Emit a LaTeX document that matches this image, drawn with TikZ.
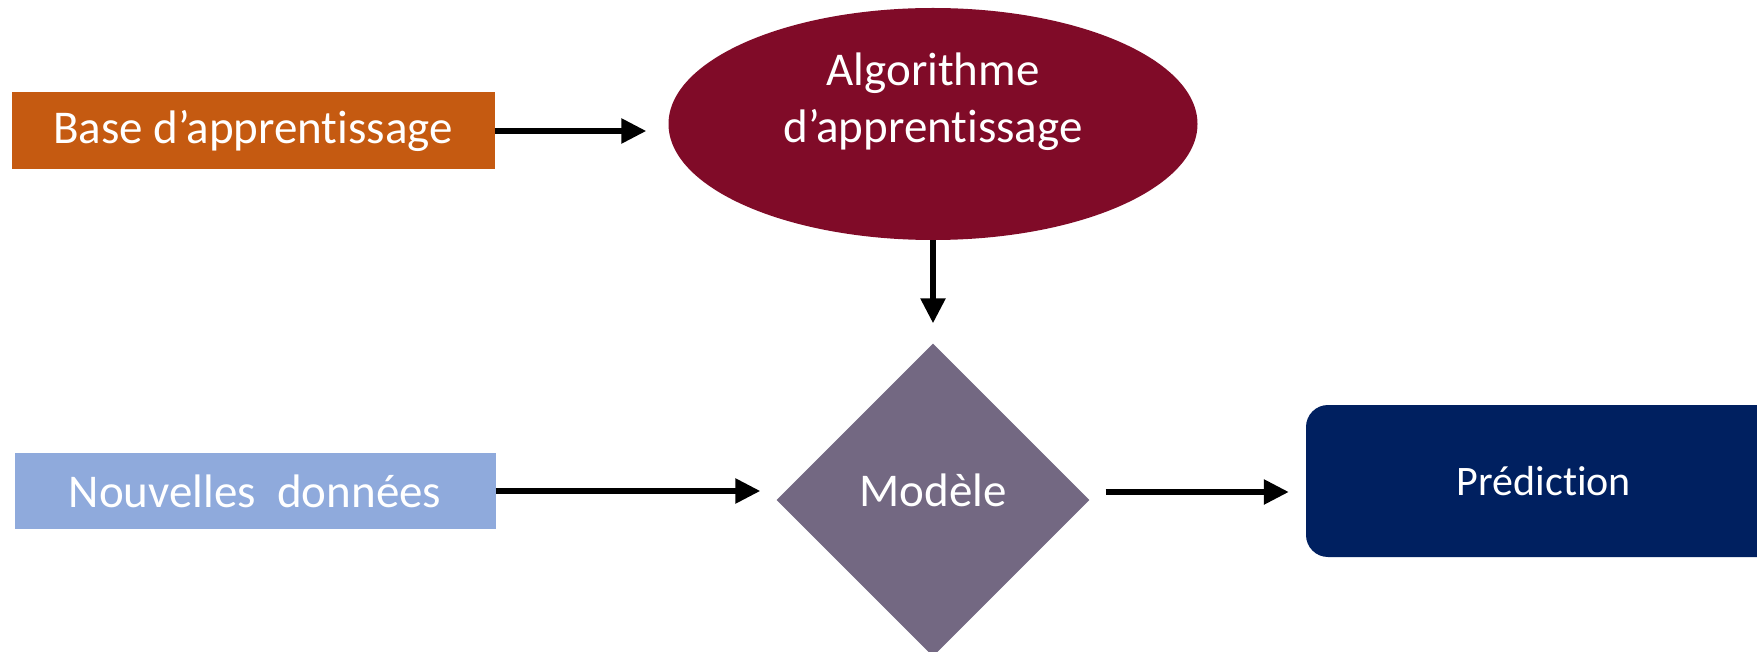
\documentclass[tikz,border=0pt]{standalone}
\usepackage{fontspec}
\setmainfont{Carlito}[Ligatures={NoCommon}]
\usetikzlibrary{shapes.geometric,arrows.meta}

\definecolor{baseorange}{RGB}{197,90,17}
\definecolor{algored}{RGB}{128,11,40}
\definecolor{newblue}{RGB}{143,170,220}
\definecolor{modgray}{RGB}{115,104,130}
\definecolor{prednavy}{RGB}{0,32,96}

\tikzset{
  box/.style={rectangle, inner sep=0pt, text=white,
    font=\fontsize{47}{56}\selectfont},
  flow/.style={line width=5.6pt, draw=black,
    -{Triangle[length=25pt,width=24pt]}},
}

\begin{document}
\begin{tikzpicture}[x=1pt,y=-1pt]
  \useasboundingbox (0,0) rectangle (1757,652);

  % input boxes
  \node[box, fill=baseorange, minimum width=483pt, minimum height=77pt]
    (base) at (253,131) {Base d’apprentissage};
  \node[box, fill=newblue, minimum width=481pt, minimum height=76pt]
    (nouv) at (255,491) {Nouvelles\ \ données};

  % learning algorithm
  \node[ellipse, fill=algored, inner sep=0pt,
        minimum width=529pt, minimum height=232pt,
        label={[text=white, align=center, yshift=22pt,
                font=\fontsize{47}{57}\selectfont]center:Algorithme\\d’apprentissage}]
    (alg) at (933,124) {};

  % model
  \node[diamond, aspect=1, fill=modgray, inner sep=0pt,
        minimum width=313pt, minimum height=313pt,
        label={[text=white, yshift=10pt,
                font=\fontsize{47}{56}\selectfont]center:Modèle}]
    (mod) at (933,500) {};

  % prediction
  \node[box, fill=prednavy, rounded corners=22pt,
        minimum width=476pt, minimum height=152pt,
        font=\fontsize{42}{50}\selectfont]
    (pred) at (1544,481) {Prédiction};

  % connectors
  \draw[flow, shorten >=22pt] (base.east) -- (base.east -| alg.west);
  \draw[flow, shorten >=20pt] (alg.south) -- (mod.north);
  \draw[flow, shorten >=16pt] (nouv.east) -- (nouv.east -| mod.west);
  \draw[flow, shorten <=16pt, shorten >=17pt]
    ([yshift=8pt]mod.east) -- ([yshift=8pt]mod.east -| pred.west);
\end{tikzpicture}
\end{document}
